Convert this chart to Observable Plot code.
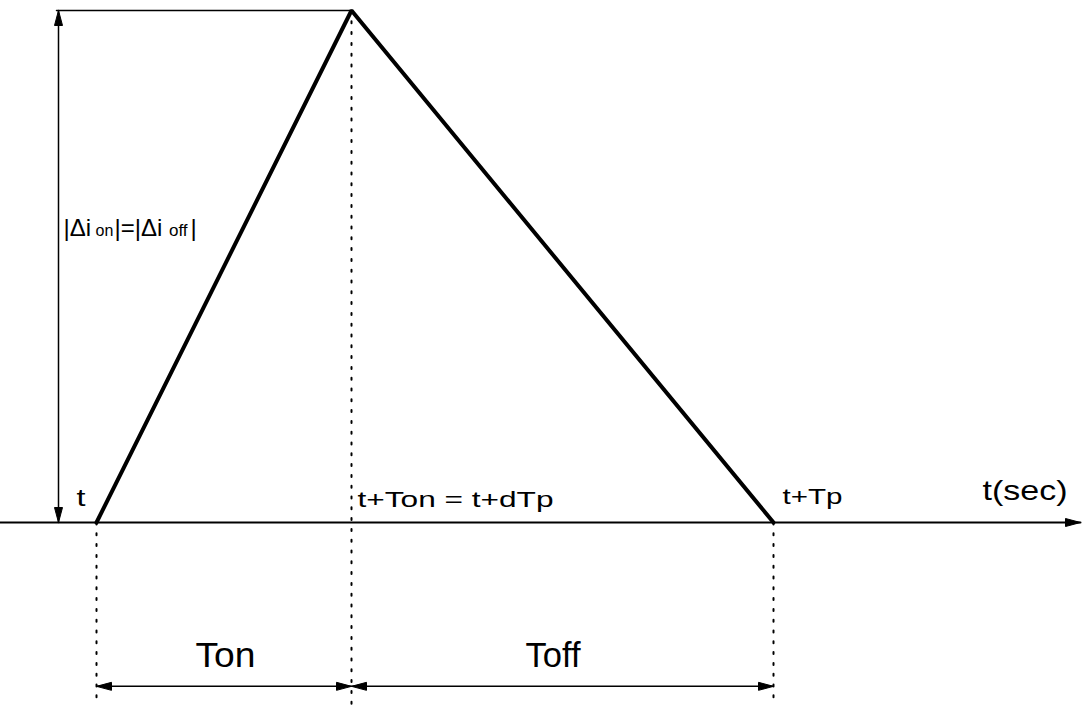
<!DOCTYPE html>
<html>
<head>
<meta charset="utf-8">
<script src="https://cdn.jsdelivr.net/npm/d3@7"></script>
<script src="https://cdn.jsdelivr.net/npm/@observablehq/plot@0.6"></script>
<style>
  html, body { margin: 0; padding: 0; background: white; }
</style>
</head>
<body>
<div id="chart"></div>
<script>
// ---- data (time in arbitrary units, current normalised to peak = 1) ----
const waveTime = [0.96, 3.51, 7.73];      // t, t+Ton, t+Tp
const waveCurrent = [0, 1, 0];             // triangular current ripple
const axisTime = [0, 10.8];                // time axis extent
const guideTime = [0.96, 3.51, 7.73];      // dotted guide positions
const guideTop = [0, 1, 0];                // where each dotted guide starts
const guideBottom = -0.357;                // dotted guides run below axis
const deltaTime = 0.58;                    // position of |Δi| dimension arrow
const topLineStart = 0.56;                 // horizontal reference line at peak
const spanStart = [0.96, 3.51];            // Ton, Toff spans
const spanEnd = [3.51, 7.73];
const spanLevel = -0.32;

const labelText = ["t", "t+Ton = t+dTp", "t+Tp", "t(sec)", "Ton", "Toff"];
const labelTime = [0.76, 3.57, 7.82, 9.82, 1.95, 5.25];
const labelLevel = [0.033, 0.031, 0.037, 0.043, -0.283, -0.283];
const labelSize = [24, 22, 22, 28, 35, 35];
const labelWidth = [9, 196, 60, 85, 60, 55];

const deltaText = ["|Δi", "on", "|=|Δi", "off", "|"];
const deltaTextTime = [0.63, 0.95, 1.14, 1.685, 1.90];
const deltaTextLevel = [0.5605, 0.5586, 0.5605, 0.5586, 0.5605];
const deltaTextSize = [24, 16, 24, 17, 24];

// ---- derived tables ----
const wave = waveTime.map((t, i) => ({t, i: waveCurrent[i]}));
const guides = guideTime.flatMap((t, k) => [
  {t, i: guideTop[k], k},
  {t, i: guideBottom, k}
]);
const spans = spanStart.map((s, k) => ({s, e: spanEnd[k]}));
const labels = labelText.map((text, k) => ({text, t: labelTime[k], i: labelLevel[k], size: labelSize[k]}));
const deltaLabels = deltaText.map((text, k) => ({text, t: deltaTextTime[k], i: deltaTextLevel[k], size: deltaTextSize[k]}));

// arrowheads: tip at the point, rotated (0 = up)
const heads = [
  {t: deltaTime, i: 1, rot: 0},
  {t: deltaTime, i: 0, rot: 180},
  {t: axisTime[1], i: 0, rot: 90},
  ...spans.flatMap(d => [
    {t: d.s, i: spanLevel, rot: -90},
    {t: d.e, i: spanLevel, rot: 90}
  ])
];

const arrowHead = {
  draw(ctx) {
    ctx.moveTo(0, 0);
    ctx.lineTo(4, 15);
    ctx.lineTo(-4, 15);
    ctx.closePath();
  }
};

const plot = Plot.plot({
  width: 1083,
  height: 705,
  margin: 0,
  x: {domain: [0, 10.83], range: [0, 1083], axis: null},
  y: {domain: [0, 1], range: [522, 10], axis: null},
  style: {background: "white", fontFamily: "'Liberation Sans', Arial, sans-serif", color: "black"},
  marks: [
    // dotted guides
    Plot.line(guides, {x: "t", y: "i", z: "k", stroke: "black", strokeWidth: 2, strokeDasharray: "2,8.8"}),
    // time axis
    Plot.line(axisTime.map(t => ({t, i: 0})), {x: "t", y: "i", stroke: "black", strokeWidth: 2}),
    // peak reference line
    Plot.line([{t: topLineStart, i: 1}, {t: waveTime[1], i: 1}], {x: "t", y: "i", stroke: "black", strokeWidth: 1.5}),
    // |Δi| dimension line
    Plot.line([{t: deltaTime, i: 0}, {t: deltaTime, i: 1}], {x: "t", y: "i", stroke: "black", strokeWidth: 1.5}),
    // Ton / Toff dimension lines
    Plot.link(spans, {x1: "s", x2: "e", y1: () => spanLevel, y2: () => spanLevel, stroke: "black", strokeWidth: 1.5}),
    // triangular waveform
    Plot.line(wave, {x: "t", y: "i", stroke: "black", strokeWidth: 4, strokeLinejoin: "miter"}),
    // arrowheads
    Plot.dot(heads, {x: "t", y: "i", rotate: "rot", symbol: arrowHead, fill: "black", stroke: "black", strokeWidth: 1, strokeLinejoin: "miter"}),
    // labels
    Plot.text(labels, {x: "t", y: "i", text: "text", fontSize: "size", textAnchor: "start", lineAnchor: "bottom", fill: "black"}),
    Plot.text(deltaLabels, {x: "t", y: "i", text: "text", fontSize: "size", textAnchor: "start", lineAnchor: "bottom", fill: "black"})
  ]
});

// stretch label glyphs to the widths seen in the figure
d3.select(plot).selectAll("text").each(function() {
  const k = labelText.indexOf(this.textContent);
  if (k >= 0) {
    this.setAttribute("textLength", labelWidth[k]);
    this.setAttribute("lengthAdjust", "spacingAndGlyphs");
  }
});

document.getElementById("chart").appendChild(plot);
</script>
</body>
</html>
